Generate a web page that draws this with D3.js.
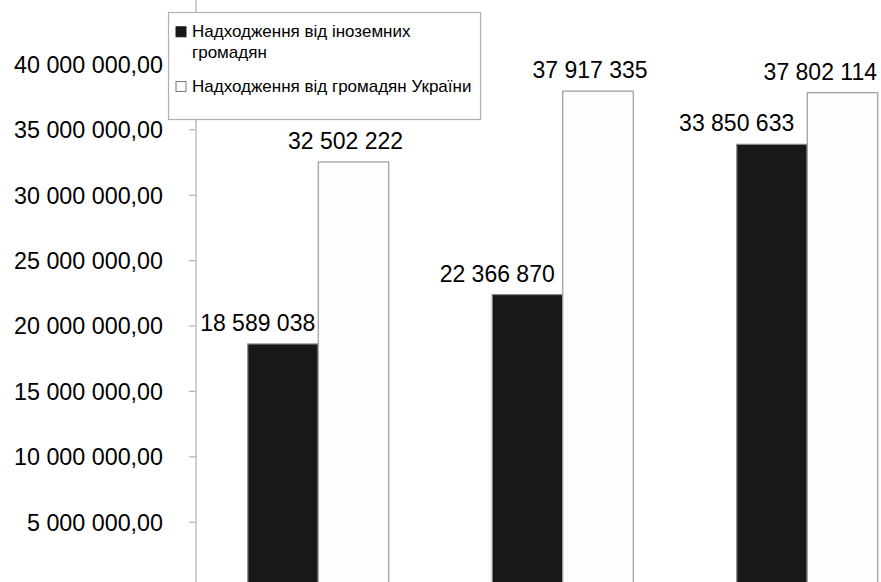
<!DOCTYPE html>
<html>
<head>
<meta charset="utf-8">
<script src="https://cdn.jsdelivr.net/npm/d3@7/dist/d3.min.js"></script>
<style>
  html, body { margin: 0; padding: 0; background: #ffffff; }
  svg { display: block; font-family: "Liberation Sans", Arial, sans-serif; }
</style>
</head>
<body>
<svg id="chart" width="881" height="582"></svg>
<script>
// ---- data ----
const categories = ["I", "II", "III"];
const seriesNames = ["Надходження від іноземних громадян", "Надходження від громадян України"];
const foreignValues = [18589038, 22366870, 33850633];
const ukrainianValues = [32502222, 37917335, 37802114];
const tickValues = [5000000, 10000000, 15000000, 20000000, 25000000, 30000000, 35000000, 40000000];
const legendLines = [["Надходження від іноземних", "громадян"], ["Надходження від громадян України"]];

// ---- setup ----
const W = 881, H = 582;
const svg = d3.select("#chart");
const locale = d3.formatLocale({ decimal: ",", thousands: " ", grouping: [3], currency: ["", ""] });
const fmtTick = locale.format(",.2f");
const fmtLabel = locale.format(",d");

const seriesStyle = [
  { fill: "#181818", stroke: "#8a8a8a" },
  { fill: "#fdfdfd", stroke: "#9a9a9a" }
];

const y = d3.scaleLinear().domain([0, 40000000]).range([587.1, 63.9]);
const x0 = d3.scaleBand().domain(categories).range([196, 929.5]).paddingInner(0.4233).paddingOuter(0.2117);
const x1 = d3.scaleBand().domain(d3.range(seriesNames.length)).range([0, x0.bandwidth()]);

const rows = categories.map((c, i) => ({ cat: c, vals: [foreignValues[i], ukrainianValues[i]] }));

// ---- axis ----
const axis = d3.axisLeft(y).tickValues(tickValues).tickFormat(fmtTick).tickSize(7).tickPadding(26);
const gAxis = svg.append("g").attr("transform", "translate(196,0)").call(axis);
gAxis.select(".domain").attr("stroke", "#b4b4b4").attr("stroke-width", 1.3).attr("d", "M0,0V590");
gAxis.selectAll(".tick line").attr("stroke", "#b4b4b4").attr("stroke-width", 1.2);
gAxis.selectAll(".tick text")
  .attr("fill", "#000")
  .style("font-size", "23.3px")
  .style("font-family", "\"Liberation Sans\", Arial, sans-serif")
  .attr("dy", "0.36em");

// ---- bars ----
const groups = svg.append("g").selectAll("g.grp").data(rows).join("g")
  .attr("class", "grp")
  .attr("transform", d => `translate(${x0(d.cat)},0)`);

groups.selectAll("rect").data(d => d.vals.map((v, s) => ({ v, s }))).join("rect")
  .attr("x", d => x1(d.s))
  .attr("y", d => y(d.v))
  .attr("width", x1.bandwidth())
  .attr("height", d => y(0) - y(d.v))
  .attr("fill", d => seriesStyle[d.s].fill)
  .attr("stroke", d => seriesStyle[d.s].stroke)
  .attr("stroke-width", 1.2);

// ---- data labels ----
const labelLayer = svg.append("g");
rows.forEach((r, i) => {
  r.vals.forEach((v, s) => {
    const barLeft = x0(r.cat) + x1(s);
    const t = labelLayer.append("text")
      .attr("y", y(v) - 13)
      .attr("fill", "#000")
      .style("font-size", "23px")
      .text(fmtLabel(v));
    const w = t.node().getComputedTextLength();
    let left;
    if (s === 0) {
      left = barLeft + x1.bandwidth() - 3 - 5 * i - w;
    } else {
      left = barLeft + x1.bandwidth() / 2 - 8 - w / 2;
    }
    left = Math.min(left, W - 4 - w);
    t.attr("x", left);
  });
});

// ---- legend ----
const lg = svg.append("g");
lg.append("rect")
  .attr("x", 168.5).attr("y", 12.5).attr("width", 312).attr("height", 107)
  .attr("fill", "#ffffff").attr("stroke", "#b0b0b0").attr("stroke-width", 1.2);
const itemBase = [37.3, 92];
legendLines.forEach((lines, i) => {
  lg.append("rect")
    .attr("x", 176).attr("y", itemBase[i] - 10.5).attr("width", 10).attr("height", 10)
    .attr("fill", seriesStyle[i].fill)
    .attr("stroke", i === 0 ? "#181818" : "#7a7a7a").attr("stroke-width", 1);
  const t = lg.append("text").attr("x", 192).attr("y", itemBase[i])
    .attr("fill", "#000").style("font-size", "17px");
  lines.forEach((ln, j) => {
    t.append("tspan").attr("x", 192).attr("dy", j === 0 ? 0 : 20.5).text(ln);
  });
});
</script>
</body>
</html>
